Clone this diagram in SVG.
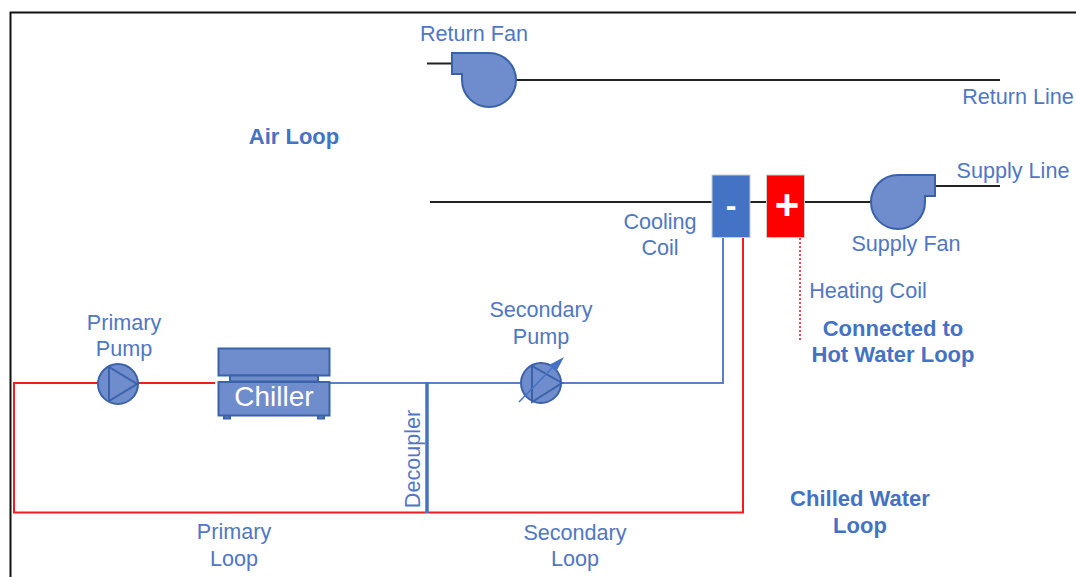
<svg xmlns="http://www.w3.org/2000/svg" width="1076" height="577" viewBox="0 0 1076 577">
<style>
text{font-family:"Liberation Sans",Arial,sans-serif;font-size:21.600px;fill:#4f77c5;text-anchor:middle}
.b{font-weight:bold;fill:#4472c4;font-size:22px}
.k{stroke:#222;stroke-width:2;fill:none}
.r{stroke:#f01c24;stroke-width:2;fill:none}
.u{stroke:#5b80c8;stroke-width:2;fill:none}
.s{fill:#6f8ccd;stroke:#3b62a8;stroke-width:2}
.p{fill:none;stroke:#3b62a8;stroke-width:2}
</style>
<rect width="1076" height="577" fill="#fff"/>
<path d="M10.500 577V12.500H1076" fill="none" stroke="#111" stroke-width="2"/>
<g id="connectors">
<path class="k" d="M427 63.500H452M516 80H1000"/>
<path class="k" d="M430 202H712M750 202H767M805 202H871M935 186H1000"/>
<path class="r" d="M98 383H14V512.500H743V238M138 383H215"/>
<path class="u" d="M330 383H521M562 383H723V238"/>
<path d="M427 382V513" stroke="#4472c4" stroke-width="3.500" fill="none"/>
<path d="M800 238V340" stroke="#f01c24" stroke-width="1.600" stroke-dasharray="2 2" fill="none"/>
</g>
<g id="return-fan"><path class="s" d="M452 53H489C505 53 516 66 516 80C516 95 504 107 489 107C474 107 462 95 462 80V74H452Z"/><text x="474" y="40.500">Return Fan</text></g>
<g id="supply-fan"><path class="s" d="M935 175H898C882 175 871 188 871 202C871 217 883 229 898 229C913 229 925 217 925 202V196H935Z"/><text x="906" y="251">Supply Fan</text></g>
<g id="cooling-coil"><rect x="712" y="175" width="38" height="62.500" fill="#4472c4" stroke="#ccc" stroke-width="1"/><text x="731" y="216" class="b" style="font-size:32px;fill:#fff">-</text></g>
<g id="heating-coil"><rect x="766.500" y="175" width="38" height="62.500" fill="#f00" stroke="#ccc" stroke-width="1"/><text x="787" y="219" class="b" style="font-size:42px;fill:#fff">+</text></g>
<g id="primary-pump"><circle class="s" cx="118" cy="384" r="20"/><path class="p" d="M109 367V401L137 384Z"/><text x="124" y="330">Primary</text><text x="124" y="356">Pump</text></g>
<g id="chiller"><rect class="s" x="218.500" y="348.500" width="111" height="27"/><rect class="s" x="230" y="375.500" width="88" height="6"/><rect class="s" x="224" y="415.500" width="6" height="3"/><rect class="s" x="318" y="415.500" width="6" height="3"/><rect class="s" x="218.500" y="382" width="111" height="33.500"/><text x="274" y="406" style="font-size:28px;fill:#fff">Chiller</text></g>
<g id="secondary-pump"><circle class="s" cx="541" cy="383" r="20"/><path class="p" d="M532 366V402L562 383Z"/><path d="M519 402L552 368" stroke="#4472c4" stroke-width="1.500" fill="none"/><path d="M549 365L564 357L556 372Z" fill="#4472c4"/><text x="541" y="317">Secondary</text><text x="541" y="344">Pump</text></g>
<g id="labels">
<text x="294" y="144" class="b">Air Loop</text>
<text x="1018" y="104">Return Line</text>
<text x="1013" y="178">Supply Line</text>
<text x="660" y="229">Cooling</text><text x="660" y="255">Coil</text>
<text x="868" y="298">Heating Coil</text>
<text x="893" y="336" class="b">Connected to</text><text x="893" y="362" class="b">Hot Water Loop</text>
<text x="860" y="506" class="b">Chilled Water</text><text x="860" y="533" class="b">Loop</text>
<text x="234" y="539">Primary</text><text x="234" y="566">Loop</text>
<text x="575" y="540">Secondary</text><text x="575" y="566">Loop</text>
<text transform="translate(420 459) rotate(-90)">Decoupler</text>
</g>
</svg>
